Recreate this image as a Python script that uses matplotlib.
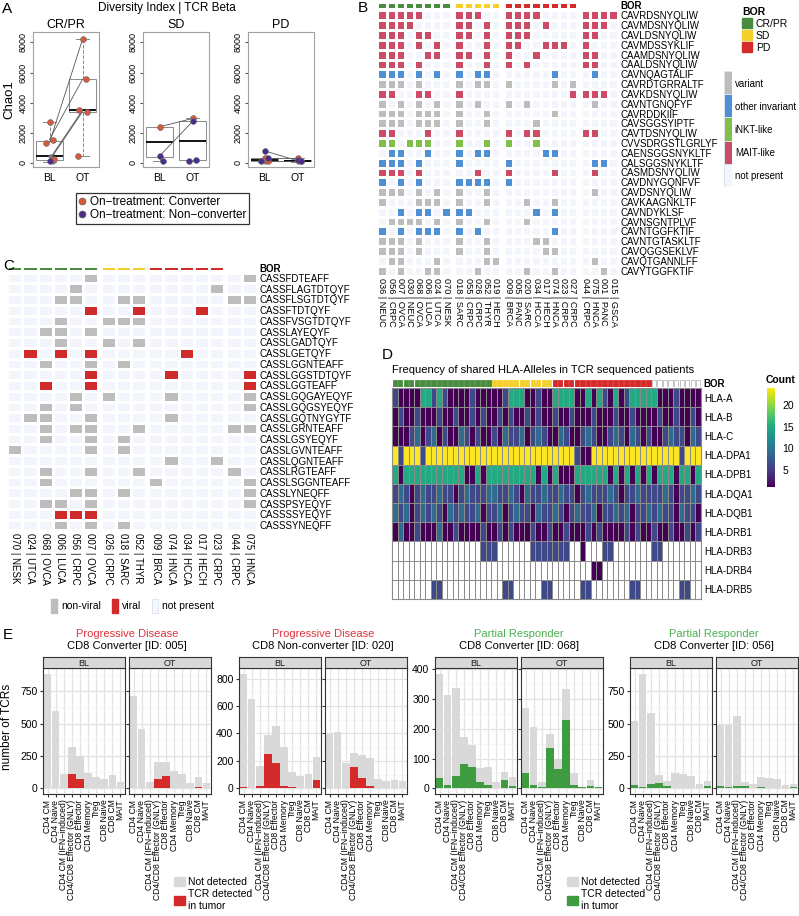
import numpy as np
import matplotlib
matplotlib.use('Agg')
import matplotlib.pyplot as plt
from matplotlib.colors import ListedColormap
from matplotlib.patches import Patch
from matplotlib.lines import Line2D

plt.rcParams['font.family'] = ['Liberation Sans', 'DejaVu Sans']

# ---------------- data ----------------
# A: Chao1 diversity
a_groups = ['CR/PR', 'SD', 'PD']
a_bl_conv = [[2700, 1550, 1350, 250], [2400], [350, 150]]
a_bl_nonconv = [[150], [450, 150], [800, 300, 100]]
a_bl_other = [[450, 80], [2350], [50]]
a_ot_conv = [[8200, 5550, 3500, 3400, 450], [2950], [350, 100]]
a_ot_nonconv = [[], [2750, 200, 150], [200, 150]]
a_ot_other = [[], [], [50]]
a_pair_bl = [[1350, 1550, 250, 150], [2400, 450], [800, 350, 100]]
a_pair_ot = [[8200, 5550, 3500, 3400], [2950, 2750], [150, 350, 100]]

# B: TRA invariant clonotypes
b_ids = ['036 | NEUC', '056 | CRPC', '007 | OVCA', '030 | NEUC', '068 | OVCA', '006 | LUCA',
         '024 | UTCA', '070 | NESK', '018 | SARC', '055 | CRPC', '026 | CRPC', '052 | THYR',
         '019 | HECH', '009 | BRCA', '005 | PANC', '020 | SARC', '034 | HCCA', '017 | HECH',
         '074 | HNCA', '023 | CRPC', '027 | CRPC', '044 | CRPC', '075 | HNCA', '001 | PANC',
         '015 | GSCA']
b_sizes = [8, 5, 8, 4]
b_bor = [0] * 8 + [1] * 5 + [2] * 8 + [np.nan] * 4
b_seqs = ['CAVRDSNYQLIW', 'CAVMDSNYQLIW', 'CAVLDSNYQLIW', 'CAVMDSSYKLIF', 'CAAMDSNYQLIW',
          'CAALDSNYQLIW', 'CAVNQAGTALIF', 'CAVRDTGRRALTF', 'CAVKDSNYQLIW', 'CAVNTGNQFYF',
          'CAVRDDKIIF', 'CAVSGGSYIPTF', 'CAVTDSNYQLIW', 'CVVSDRGSTLGRLYF', 'CAENSGGSNYKLTF',
          'CALSGGSNYKLTF', 'CASMDSNYQLIW', 'CAVDNYGQNFVF', 'CAVDSNYQLIW', 'CAVKAAGNKLTF',
          'CAVNDYKLSF', 'CAVNSGNTPLVF', 'CAVNTGGFKTIF', 'CAVNTGTASKLTF', 'CAVQGGSEKLVF',
          'CAVQTGANNLFF', 'CAVYTGGFKTIF']
# . not present, v variant, o other invariant, i iNKT-like, m MAIT-like
b_rows = [
    "mmmmm..." "mmm.." "mmmm...." "mmmm",
    "mmmm...." "mm.m." "mmm.m..." "mmm.",
    "mmm.mm.." "mm.m." "mmm....." "mm..",
    "mmm.m.m." "m..m." "mm..mmm." "m...",
    "mmm..mm." "mm.m." "m..m...." "mm..",
    "mmm.m..." "m..m." "m.m....." "mm..",
    "ooo.o.o." "o.oo." ".....o.." ".o..",
    "vvv.v..." "v.vv." "v....v.v" "....",
    "mm..mm.." "m...." ".......m" "mmm.",
    "v.v.v.v." "v.v.." "v.v....." ".v..",
    "vvv.vvv." "v..v." ".....v.." "....",
    "vvv.vvv." "v..v." "...v...." "....",
    "mm...m.." "m...." "m.mm...." "mm..",
    "ii.iii.." "i..i." "i..i...." "....",
    ".oo..o.." "o.oo." "....oo.." "....",
    "ooo.o..." "o...." "o......." ".oo.",
    "mmm.m..." "..m.." "m....m.." ".m..",
    "o.o.o..." "oooo." "o......." "....",
    "vvv.v.v." "v..v." "........" ".v..",
    "v...vvv." "v..v." "..v..v.." "....",
    "..o.oo.o" "oo..." "...o.o.." "....",
    ".vvvv.v." "v..v." "..v....." "....",
    "o.o.ooo." "o.o.." ".....o.." "....",
    "vvv.v..." "v..v." "...vv..." "....",
    "vvv.v..." "v..v." "....vv.." "....",
    ".vv...v." "...vv" "........" ".v..",
    "v.v..vv." "..v.." "..v..v.." "..v.",
]
b_types = ['not present', 'variant', 'other invariant', 'iNKT-like', 'MAIT-like']

# C: TRB viral clonotypes
c_ids = ['070 | NESK', '024 | UTCA', '068 | OVCA', '006 | LUCA', '056 | CRPC', '007 | OVCA',
         '026 | CRPC', '018 | SARC', '052 | THYR', '009 | BRCA', '074 | HNCA', '034 | HCCA',
         '017 | HECH', '023 | CRPC', '044 | CRPC', '075 | HNCA']
c_sizes = [6, 3, 5, 2]
c_bor = [0] * 6 + [1] * 3 + [2] * 5 + [np.nan] * 2
c_seqs = ['CASSFDTEAFF', 'CASSFLAGTDTQYF', 'CASSFLSGTDTQYF', 'CASSFTDTQYF', 'CASSFVSGTDTQYF',
          'CASSLAYEQYF', 'CASSLGADTQYF', 'CASSLGETQYF', 'CASSLGGNTEAFF', 'CASSLGGSTDTQYF',
          'CASSLGGTEAFF', 'CASSLGQGAYEQYF', 'CASSLGQGSYEQYF', 'CASSLGQTNYGYTF', 'CASSLGRNTEAFF',
          'CASSLGSYEQYF', 'CASSLGVNTEAFF', 'CASSLQGNTEAFF', 'CASSLRGTEAFF', 'CASSLSGGNTEAFF',
          'CASSLYNEQFF', 'CASSPSYEQYF', 'CASSSSYEQYF', 'CASSSYNEQFF']
# . not present, g non-viral, r viral
c_rows = [
    ".....g" "..." "....." ".g",
    "....g." "..." "....g" "..",
    "...gg." ".gg" "....." "gg",
    ".....r" "..r" "...r." "..",
    "...g.." "ggg" "....." "..",
    "..gg.g" "..." "....." "..",
    "...g.." "g.g" "....." "..",
    ".r.r.r" "..." "..r.." "..",
    "..g..g" ".g." "....." "..",
    ".....r" "..." ".r..." ".r",
    "..r..r" "..." "....." ".r",
    "....g." "g.." ".g..." ".g",
    "..g.g." "..." "....." ".g",
    ".gg..g" "..." ".g..." "..",
    "..g.gg" "..g" "....." "gg",
    "..g..g" ".g." "....." "..",
    "g....g" ".g." "....." "..",
    "......" "..." ".g..g" "..",
    "..g..g" "..g" "....." "g.",
    "..g..." "..." "g...." ".g",
    "....gg" ".g." "....." ".g",
    "..gg.g" "..." "....." ".g",
    "...rrr" "..." "....." "..",
    "...g.g" ".g." "....." "..",
]

# D: shared HLA alleles (p~1, b~6, c~9, t~15, y~24, . = none)
d_alleles = ['HLA-A', 'HLA-B', 'HLA-C', 'HLA-DPA1', 'HLA-DPB1', 'HLA-DQA1', 'HLA-DQB1',
             'HLA-DRB1', 'HLA-DRB3', 'HLA-DRB4', 'HLA-DRB5']
d_bor = [0] * 18 + [1] * 11 + [2] * 18 + [3] * 9
d_rows = [
    "bppppttbtbppppbppp" "ppbtttppbpp" "ttttpptptbptpbtttt" "tpppbpppp",
    "pbppbpppbppbppbpbp" "pbpbppbpbpp" "bppbpppbpppbppbppp" "pbppbppbp",
    "pppbcpbcpbppcbpbpp" "bpcbbcpbcbp" "pcbppbcbppbcbpcbpb" "ppbcbbpcb",
    "ybyyybyyyyyyyyyyyy" "yyyyyyyyyyy" "yyyybppyyyyyyyyyyy" "yyyyybyyy",
    "tptttttttttttpptpt" "ttttttttptp" "tpppttttttptptptpt" "ptttpttpt",
    "bcbpbcbbcbbpbcbbbc" "cbbcbpcbbcb" "bcbbpbcbbbcbpbbcbb" "bbcbpbbcb",
    "cbcpbcbcbpcbcbbcpb" "bcpbcbbpcbb" "cbpbcbbcpbbcbcpbbc" "bcbbpcbbp",
    "pcppbpppcppbppppbp" "pbpbpppbppb" "ppbpppbpbppppbpbpp" "bppbppbpb",
    "................bb" "b......bbbb" "bbb..p...bb......." "bb.......",
    ".................." "..........." ".......pp........." ".........",
    ".......bb........." "..bb.....bb" ".....bb.......bb.." ".....bb..",
]
d_level = {'p': 1, 'b': 6, 'c': 9, 't': 15, 'y': 24, '.': np.nan}

# E: TCRs per cell type
e_cells = ['CD4 CM', 'CD4 Naive', 'CD4 CM (IFN\u2212induced)', 'CD4/CD8 Effector (GNLY)',
           'CD8 Effector', 'CD4 Memory', 'Treg', 'CD8 Naive', 'CD8 CM', 'MAIT']
e_resp = ['Progressive Disease', 'Progressive Disease', 'Partial Responder', 'Partial Responder']
e_title = ['CD8 Converter [ID: 005]', 'CD8 Non-converter [ID: 020]',
           'CD8 Converter [ID: 068]', 'CD8 Converter [ID: 056]']
e_total_bl = [[885, 600, 110, 320, 250, 120, 90, 70, 100, 45],
              [835, 650, 160, 385, 455, 300, 120, 90, 105, 225],
              [385, 313, 338, 173, 147, 67, 73, 20, 55, 38],
              [520, 885, 580, 105, 55, 120, 110, 95, 35, 55]]
e_detect_bl = [[5, 0, 0, 110, 75, 5, 0, 0, 5, 5],
               [10, 5, 15, 250, 185, 15, 10, 0, 5, 60],
               [33, 10, 40, 82, 72, 22, 12, 2, 28, 8],
               [25, 10, 30, 40, 20, 5, 5, 0, 5, 15]]
e_total_ot = [[710, 460, 45, 200, 200, 130, 110, 40, 85, 40],
              [395, 410, 185, 255, 240, 220, 70, 50, 60, 55],
              [270, 205, 20, 182, 98, 332, 50, 5, 28, 5],
              [490, 485, 560, 45, 35, 90, 80, 70, 25, 35]]
e_detect_ot = [[5, 0, 0, 70, 95, 5, 0, 0, 10, 5],
               [5, 0, 5, 155, 75, 15, 5, 0, 5, 5],
               [52, 12, 5, 135, 65, 228, 12, 3, 8, 3],
               [20, 10, 15, 20, 5, 10, 5, 0, 0, 10]]
e_ystep = [250, 200, 100, 250]

# ---------------- style ----------------
BOR_COL = ['#4a8c3f', '#f5d02a', '#d62a2a']
CONV, NONCONV = '#d65a3b', '#4b2d8f'
RED, GREEN = '#d42a2a', '#3f9b3f'

W, H = 799, 916
fig = plt.figure(figsize=(W / 100, H / 100), dpi=100)


def add_ax(x0, y0, x1, y1):
    return fig.add_axes([x0 / W, 1 - y1 / H, (x1 - x0) / W, (y1 - y0) / H])


def ftext(x, y, s, **kw):
    fig.text(x / W, 1 - y / H, s, **kw)


def heat(ax, mat, sizes, gap, **kw):
    nr = mat.shape[0]
    start, centers = 0, []
    for g, n in enumerate(sizes):
        xs = np.arange(n + 1) + start + g * gap
        ax.pcolormesh(xs, np.arange(nr + 1), mat[:, start:start + n], **kw)
        centers.extend(xs[:-1] + 0.5)
        start += n
    ax.set_xlim(0, start + gap * (len(sizes) - 1))
    ax.set_ylim(nr, 0)
    for s in ax.spines.values():
        s.set_visible(False)
    return centers


def bor_label(ax):
    ax.yaxis.tick_right()
    ax.set_yticks([0.5], ['BOR'], fontsize=7, fontweight='bold')
    ax.set_xticks([])
    ax.tick_params(length=0, pad=2)


# ---------------- A ----------------
ftext(2, 9, 'A', fontsize=11, va='center')
ftext(167, 8, 'Diversity Index | TCR Beta', fontsize=8.5, ha='center', va='center')
a_left = [33, 143, 248]
jit = [0.0, 0.1, -0.1, 0.15, -0.15]
for i, grp in enumerate(a_groups):
    ax = add_ax(a_left[i], 32, a_left[i] + 66, 167)
    bl = a_bl_conv[i] + a_bl_nonconv[i] + a_bl_other[i]
    ot = a_ot_conv[i] + a_ot_nonconv[i] + a_ot_other[i]
    ax.boxplot([bl, ot], positions=[1, 2], widths=0.8, showfliers=False, patch_artist=True,
               boxprops=dict(facecolor='white', edgecolor='#8a8a8a', lw=0.7),
               medianprops=dict(color='black', lw=1.3),
               whiskerprops=dict(color='#8a8a8a', ls='--', lw=0.7),
               capprops=dict(color='#8a8a8a', lw=0.7))
    for b, o in zip(a_pair_bl[i], a_pair_ot[i]):
        ax.plot([1, 2], [b, o], color='#555555', lw=0.6, zorder=3)
    for pos, vals, col, ms in [(1, a_bl_other[i], '#7f7f7f', 2.5), (2, a_ot_other[i], '#7f7f7f', 2.5),
                               (1, a_bl_conv[i], CONV, 4.2), (2, a_ot_conv[i], CONV, 4.2),
                               (1, a_bl_nonconv[i], NONCONV, 4.2), (2, a_ot_nonconv[i], NONCONV, 4.2)]:
        for k, v in enumerate(vals):
            ax.plot(pos + jit[k % 5], v, 'o', ms=ms, mfc=col, mec='#666666', mew=0.4, zorder=4)
    ax.set_xlim(0.5, 2.5)
    ax.set_ylim(-270, 8690)
    ax.set_yticks([0, 2000, 4000, 6000, 8000])
    ax.set_xticks([1, 2], ['BL', 'OT'])
    ax.tick_params(axis='x', length=0, labelsize=7.5, pad=4)
    ax.tick_params(axis='y', length=2.5, labelsize=6.5, labelrotation=90, color='#555555', pad=1.5)
    for lb in ax.get_yticklabels():
        lb.set_va('center')
    for s in ax.spines.values():
        s.set_color('#a0a0a0')
        s.set_linewidth(0.8)
    ax.set_title(grp, fontsize=9, pad=3)
    if i == 0:
        ax.set_ylabel('Chao1', fontsize=9.5, labelpad=2)

a_handles = [Line2D([], [], ls='none', marker='o', ms=5, mfc=CONV, mec='#666666', mew=0.5),
             Line2D([], [], ls='none', marker='o', ms=5, mfc=NONCONV, mec='#666666', mew=0.5)]
leg = fig.legend(a_handles, ['On\u2212treatment: Converter', 'On\u2212treatment: Non\u2212converter'],
                 loc='upper left', bbox_to_anchor=(76 / W, 1 - 193 / H), fontsize=8.5, frameon=True,
                 fancybox=False, edgecolor='black', handlelength=0.6, handletextpad=0.3,
                 borderpad=0.25, labelspacing=0.1, borderaxespad=0)
leg.get_frame().set_linewidth(0.9)

# ---------------- B ----------------
ftext(358, 8, 'B', fontsize=11, va='center')
b_cols = ['#f2f6fc', '#bdbdbd', '#4f8fd4', '#80c04a', '#cc4b66']
b_code = {'.': 0, 'v': 1, 'o': 2, 'i': 3, 'm': 4}
b_mat = np.array([[b_code[ch] for ch in r] for r in b_rows], dtype=float)
ax = add_ax(377.4, 10.4, 617.6, 275.6)
cen = heat(ax, b_mat, b_sizes, 0.42, cmap=ListedColormap(b_cols), vmin=-0.5, vmax=4.5,
           edgecolors='white', linewidth=0.8)
ax.set_xticks(cen, b_ids, rotation=270, fontsize=6.6)
ax.yaxis.tick_right()
ax.set_yticks(np.arange(len(b_seqs)) + 0.5, b_seqs, fontsize=7)
ax.tick_params(length=0, pad=2)
axb = add_ax(377.4, 1.5, 617.6, 8.5)
heat(axb, np.array([b_bor]), b_sizes, 0.42,
     cmap=ListedColormap(BOR_COL).with_extremes(bad='white'), vmin=-0.5, vmax=2.5,
     edgecolors='white', linewidth=0.8)
bor_label(axb)

bor_handles = [Patch(color=c) for c in BOR_COL]
leg = fig.legend(bor_handles, ['CR/PR', 'SD', 'PD'], title='BOR', loc='upper left',
                 bbox_to_anchor=(738 / W, 1 - 3 / H), frameon=False, fontsize=7.5,
                 handlelength=0.9, handleheight=1.1, handletextpad=0.4, labelspacing=0.12,
                 borderaxespad=0, title_fontproperties={'weight': 'bold', 'size': 7.5},
                 alignment='left')
axl = add_ax(724, 71, 732, 187)
order = [1, 2, 3, 4, 0]
axl.pcolormesh(np.array([order]).T, cmap=ListedColormap(b_cols), vmin=-0.5, vmax=4.5,
               edgecolors='#dde3ea', linewidth=0.4)
axl.set_ylim(5, 0)
axl.set_xticks([])
axl.yaxis.tick_right()
axl.set_yticks(np.arange(5) + 0.5, [b_types[k] for k in order], fontsize=6.9)
axl.tick_params(length=0, pad=2)
for s in axl.spines.values():
    s.set_visible(False)

# ---------------- C ----------------
ftext(3, 266, 'C', fontsize=11, va='center')
c_code = {'.': 0, 'g': 1, 'r': 2}
c_mat = np.array([[c_code[ch] for ch in r] for r in c_rows], dtype=float)
c_cols = ['#f2f6fc', '#bdbdbd', '#d12a2a']
ax = add_ax(7.4, 272.6, 256.6, 530.4)
cen = heat(ax, c_mat, c_sizes, 0.18, cmap=ListedColormap(c_cols), vmin=-0.5, vmax=2.5,
           edgecolors='white', linewidth=0.8)
ax.set_xticks(cen, c_ids, rotation=270, fontsize=7)
ax.yaxis.tick_right()
ax.set_yticks(np.arange(len(c_seqs)) + 0.5, c_seqs, fontsize=7)
ax.tick_params(length=0, pad=2)
axb = add_ax(7.4, 265.5, 256.6, 271.3)
heat(axb, np.array([c_bor]), c_sizes, 0.18,
     cmap=ListedColormap(BOR_COL).with_extremes(bad='white'), vmin=-0.5, vmax=2.5,
     edgecolors='white', linewidth=0.8)
bor_label(axb)
c_handles = [Patch(fc='#bdbdbd', ec='#bdbdbd'), Patch(fc='#d12a2a', ec='#d12a2a'),
             Patch(fc='#f4f7fc', ec='#dde3ea', lw=0.6)]
fig.legend(c_handles, ['non-viral', 'viral', 'not present'], loc='upper left', ncol=3,
           bbox_to_anchor=(47 / W, 1 - 595 / H), frameon=False, fontsize=7.5,
           handlelength=0.6, handleheight=1.6, handletextpad=0.4, columnspacing=1.0,
           borderaxespad=0)

# ---------------- D ----------------
ftext(382, 355, 'D', fontsize=11, va='center')
ftext(392, 370, 'Frequency of shared HLA-Alleles in TCR sequenced patients', fontsize=8,
      va='center')
d_mat = np.array([[d_level[ch] for ch in r] for r in d_rows])
vir = plt.get_cmap('viridis').with_extremes(bad='white')
ax = add_ax(392, 388, 701, 599)
nd = d_mat.shape[1]
mesh = ax.pcolormesh(np.arange(nd + 1), np.arange(len(d_alleles) + 1), np.ma.masked_invalid(d_mat),
                     cmap=vir, vmin=1, vmax=24, edgecolors='#8c8c8c', linewidth=0.7)
ax.set_xlim(0, nd)
ax.set_ylim(len(d_alleles), 0)
ax.set_xticks([])
ax.yaxis.tick_right()
ax.set_yticks(np.arange(len(d_alleles)) + 0.5, d_alleles, fontsize=7)
ax.tick_params(length=0, pad=2)
for s in ax.spines.values():
    s.set_color('#8c8c8c')
    s.set_linewidth(0.8)
axb = add_ax(392, 379.5, 701, 386.5)
d_bar_col = [(BOR_COL + ['white'])[k] for k in d_bor]
d_bar_edge = ['#bcbcbc' if k == 3 else (BOR_COL + ['white'])[k] for k in d_bor]
axb.bar(np.arange(nd) + 0.5, 1, width=0.78, color=d_bar_col, edgecolor=d_bar_edge, linewidth=0.6)
axb.set_xlim(0, nd)
axb.set_ylim(0, 1)
for s in axb.spines.values():
    s.set_visible(False)
bor_label(axb)
cax = add_ax(767, 388, 775, 487)
cb = fig.colorbar(mesh, cax=cax, ticks=[5, 10, 15, 20])
cb.outline.set_visible(False)
cax.tick_params(labelsize=7.5, length=2, color='white')
ftext(766, 380, 'Count', fontsize=7.5, fontweight='bold', va='center')

# ---------------- E ----------------
ftext(3, 635, 'E', fontsize=11, va='center')
e_pos = [(43, 125, 129, 211), (239, 321, 325, 407), (435, 517, 521, 603), (630, 712, 716, 798)]
e_col = [RED, RED, GREEN, GREEN]
e_tcol = ['#e0323c', '#e0323c', '#4caf50', '#4caf50']
for g in range(4):
    ymax = max(max(e_total_bl[g]), max(e_total_ot[g]))
    xc = (e_pos[g][0] + e_pos[g][3]) / 2
    ftext(xc, 634, e_resp[g], fontsize=8, color=e_tcol[g], ha='center', va='center')
    ftext(xc, 646, e_title[g], fontsize=8, ha='center', va='center')
    facets = [('BL', e_total_bl[g], e_detect_bl[g]), ('OT', e_total_ot[g], e_detect_ot[g])]
    for k, (lab, tot, det) in enumerate(facets):
        x0, x1 = e_pos[g][2 * k], e_pos[g][2 * k + 1]
        ax = add_ax(x0, 668, x1, 794)
        xs = np.arange(len(e_cells))
        ax.bar(xs, tot, width=0.9, color='#d9d9d9', zorder=2)
        ax.bar(xs, det, width=0.9, color=e_col[g], zorder=3)
        ax.set_xlim(-0.6, len(e_cells) - 0.4)
        ax.set_ylim(-0.05 * ymax, 1.05 * ymax)
        yt = np.arange(0, 1.05 * ymax, e_ystep[g])
        ax.set_yticks(yt)
        mt = np.arange(e_ystep[g] / 2, 1.05 * ymax, e_ystep[g])
        ax.set_yticks(mt, minor=True)
        ax.set_xticks(xs, e_cells, rotation=90, fontsize=6.2)
        ax.grid(True, which='major', color='#e3e3e3', lw=0.9)
        ax.grid(True, which='minor', axis='y', color='#f0f0f0', lw=0.5)
        ax.set_axisbelow(True)
        ax.tick_params(which='major', length=2.5, color='#333333', labelsize=7.5, pad=1.5)
        ax.tick_params(which='minor', length=0)
        ax.tick_params(axis='x', labelsize=6.2, pad=1.5)
        if k == 1:
            ax.tick_params(axis='y', labelleft=False)
        for s in ax.spines.values():
            s.set_color('#333333')
            s.set_linewidth(0.8)
        sax = add_ax(x0, 657, x1, 668)
        sax.set_facecolor('#d9d9d9')
        sax.set_xticks([])
        sax.set_yticks([])
        for s in sax.spines.values():
            s.set_color('#333333')
            s.set_linewidth(0.8)
        sax.text(0.5, 0.45, lab, transform=sax.transAxes, ha='center', va='center', fontsize=6.5,
                 color='#1a1a1a')
ftext(7, 727, 'number of TCRs', fontsize=8.5, rotation=90, ha='center', va='center')
for lx, c in [(170, RED), (563, GREEN)]:
    fig.legend([Patch(color='#d9d9d9'), Patch(color=c)], ['Not detected', 'TCR detected\nin tumor'],
               loc='upper left', bbox_to_anchor=(lx / W, 1 - 873 / H), frameon=False,
               fontsize=7.5, handlelength=1.0, handleheight=1.0, handletextpad=0.3,
               labelspacing=0.2, borderaxespad=0)

fig.savefig('out.png', dpi=100)
plt.close()
